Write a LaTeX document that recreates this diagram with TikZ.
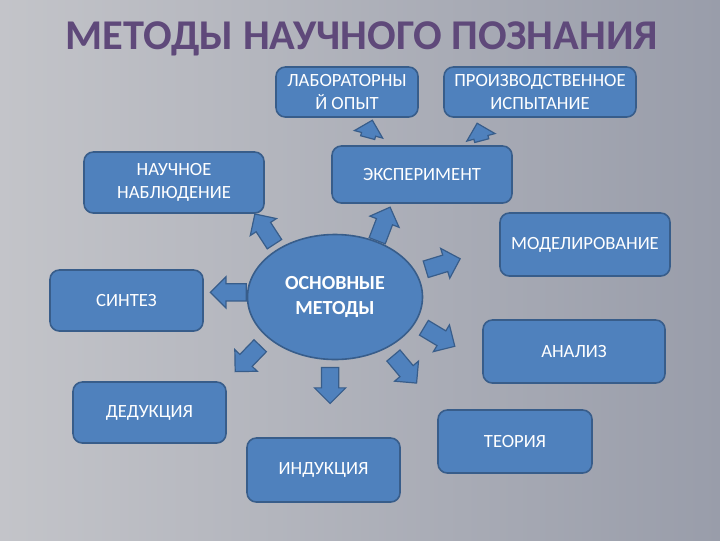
\documentclass[tikz,border=0pt]{standalone}
\usepackage{fontspec}
\setmainfont{Carlito}
\usetikzlibrary{shapes.geometric,shapes.arrows,calc}

\tikzset{
  methodbox/.style={draw=boxline, fill=boxfill, line width=1.2pt, rounded corners=7pt,
    text=white, align=center, font=\fontsize{14}{17}\selectfont, inner sep=0pt},
  blockarr/.style={single arrow, draw=boxline, fill=boxfill, line width=0.9pt,
    inner xsep=0pt, inner ysep=6pt, single arrow head extend=5.25pt,
    minimum height=27pt, anchor=tail},
  smallarr/.style={blockarr, inner ysep=5pt, single arrow head extend=5.5pt,
    minimum height=13.5pt}
}

\begin{document}
\begin{tikzpicture}[x=0.75pt, y=-0.75pt]
\definecolor{bgleft}{HTML}{C3C4C9}
\definecolor{bgmid}{HTML}{E4E4E6}
\definecolor{bgright}{HTML}{999DAA}
\definecolor{boxfill}{HTML}{4F81BD}
\definecolor{boxline}{HTML}{385D8A}
\definecolor{titlecol}{HTML}{5F497A}
\shade[left color=bgleft, middle color=bgmid, right color=bgright] (0,0) rectangle (720,540);
\useasboundingbox (0,0) rectangle (720,540);
\node[anchor=base, text=titlecol, font=\fontsize{31.8}{38}\selectfont\bfseries] (title) at (362,49) {МЕТОДЫ НАУЧНОГО ПОЗНАНИЯ};
% boxes
\node[methodbox, minimum width=106.5pt, minimum height=37.5pt] (lab) at (347,92) {ЛАБОРАТОРНЫ\\Й ОПЫТ};
\node[methodbox, minimum width=144pt, minimum height=37.5pt] (prod) at (540,92) {ПРОИЗВОДСТВЕННОЕ\\ИСПЫТАНИЕ};
\node[methodbox, minimum width=135pt, minimum height=45.75pt] (nabl) at (174,182.5) {НАУЧНОЕ\\НАБЛЮДЕНИЕ};
\node[methodbox, minimum width=135pt, minimum height=42.75pt] (exper) at (422,174.5) {ЭКСПЕРИМЕНТ};
\node[methodbox, minimum width=127.5pt, minimum height=47.25pt] (model) at (585,244.5) {МОДЕЛИРОВАНИЕ};
\node[methodbox, minimum width=114.75pt, minimum height=45.75pt] (synt) at (126.5,300.5) {СИНТЕЗ};
\node[methodbox, minimum width=136.5pt, minimum height=47.25pt] (anal) at (574,351.5) {АНАЛИЗ};
\node[methodbox, minimum width=115.5pt, minimum height=47.25pt] (theo) at (515,441.5) {ТЕОРИЯ};
\node[methodbox, minimum width=114.75pt, minimum height=45.75pt] (deduk) at (149.5,412.5) {ДЕДУКЦИЯ};
\node[methodbox, minimum width=114.75pt, minimum height=48pt] (induk) at (323.5,470) {ИНДУКЦИЯ};
% centre
\node[ellipse, draw=boxline, fill=boxfill, line width=1.2pt, inner sep=0pt,
  minimum width=131.25pt, minimum height=93.75pt, text=white, align=center,
  font=\fontsize{15}{19}\selectfont\bfseries] (core) at (335,297) {ОСНОВНЫЕ\\МЕТОДЫ};
% arrows
\node[blockarr, rotate=180] (a-synt) at (core.177) {};
\node[blockarr, rotate=123] (a-nabl) at ($(core.139)+(139:4pt)$) {};
\node[blockarr, rotate=69] (a-exper) at (core.53) {};
\node[blockarr, rotate=17] (a-model) at ($(core.17)+(17:7pt)$) {};
\node[blockarr, rotate=-31] (a-anal) at ($(core.-19)+(-19:7pt)$) {};
\node[blockarr, rotate=-50] (a-theo) at ($(core.-45)+(-45:7pt)$) {};
\node[blockarr, rotate=-90] (a-induk) at ($(core.-94)+(-94:5pt)$) {};
\node[blockarr, rotate=-134] (a-deduk) at ($(core.-147)+(-147:8pt)$) {};
\node[smallarr, rotate=75] (a-lab) at ($(exper.north west)!0.2!(exper.north east)+(0,-7)$) {};
\node[smallarr, rotate=105] (a-prod) at ($(exper.north west)!0.83!(exper.north east)+(0,-4)$) {};
\end{tikzpicture}
\end{document}
